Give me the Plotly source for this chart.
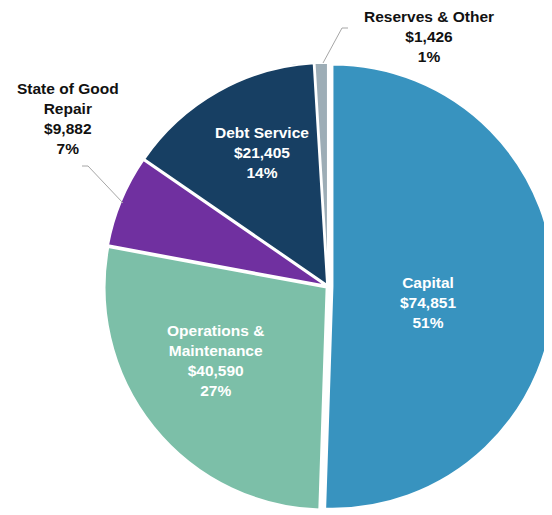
import plotly.graph_objects as go

labels = ["Capital", "Operations &<br>Maintenance", "State of Good<br>Repair", "Debt Service", "Reserves & Other"]
values = [74851, 40590, 9882, 21405, 1426]
colors = ["#3893BF", "#7CBFA8", "#7030A0", "#173F63", "#9DADB6"]
text_colors = ["white", "white", "#111111", "white", "#111111"]
# label centre positions in page pixels (x from left, y from top)
label_px = [(428, 302), (215, 360), (68, 118), (262, 152), (429, 36)]

W, H = 552, 515
OFF = 8  # default page body margin
total = sum(values)


def px2paper(px, py):
    return (px - OFF) / W, 1 - (py - OFF) / H


fig = go.Figure()
fig.add_trace(go.Pie(
    labels=labels, values=values, sort=False, direction="clockwise", rotation=0,
    marker=dict(colors=colors, line=dict(color="white", width=2)),
    pull=[0.02, 0.008, 0.008, 0.008, 0.008],
    textinfo="none", hoverinfo="label+value+percent",
    domain=dict(x=[88 / W, 1.0], y=[10 / H, 1 - 52 / H]),
    showlegend=False,
))

for lab, v, c, (px, py) in zip(labels, values, text_colors, label_px):
    pct = int(v / total * 100 + 0.5)
    x, y = px2paper(px, py)
    y = min(y, 1.0)
    fig.add_annotation(
        x=x, y=y, xref="paper", yref="paper",
        text=f"<b>{lab}<br>${v:,}<br>{pct}%</b>", showarrow=False,
        font=dict(family="Liberation Sans, Arial", size=15.5, color=c),
        align="center", xanchor="center", yanchor="middle",
    )

# leader lines
leaders = [
    [(323, 63), (342, 28), (348, 28)],
    [(123, 203), (88, 166), (82, 166)],
]
for pts in leaders:
    for (x0, y0), (x1, y1) in zip(pts[:-1], pts[1:]):
        a0, b0 = px2paper(x0, y0)
        a1, b1 = px2paper(x1, y1)
        fig.add_shape(type="line", xref="paper", yref="paper",
                      x0=a0, y0=b0, x1=a1, y1=b1,
                      line=dict(color="#A6A6A6", width=1))

fig.update_layout(
    width=W, height=H, margin=dict(l=0, r=0, t=0, b=0),
    paper_bgcolor="white", plot_bgcolor="white",
)
fig.write_html("out.html")
